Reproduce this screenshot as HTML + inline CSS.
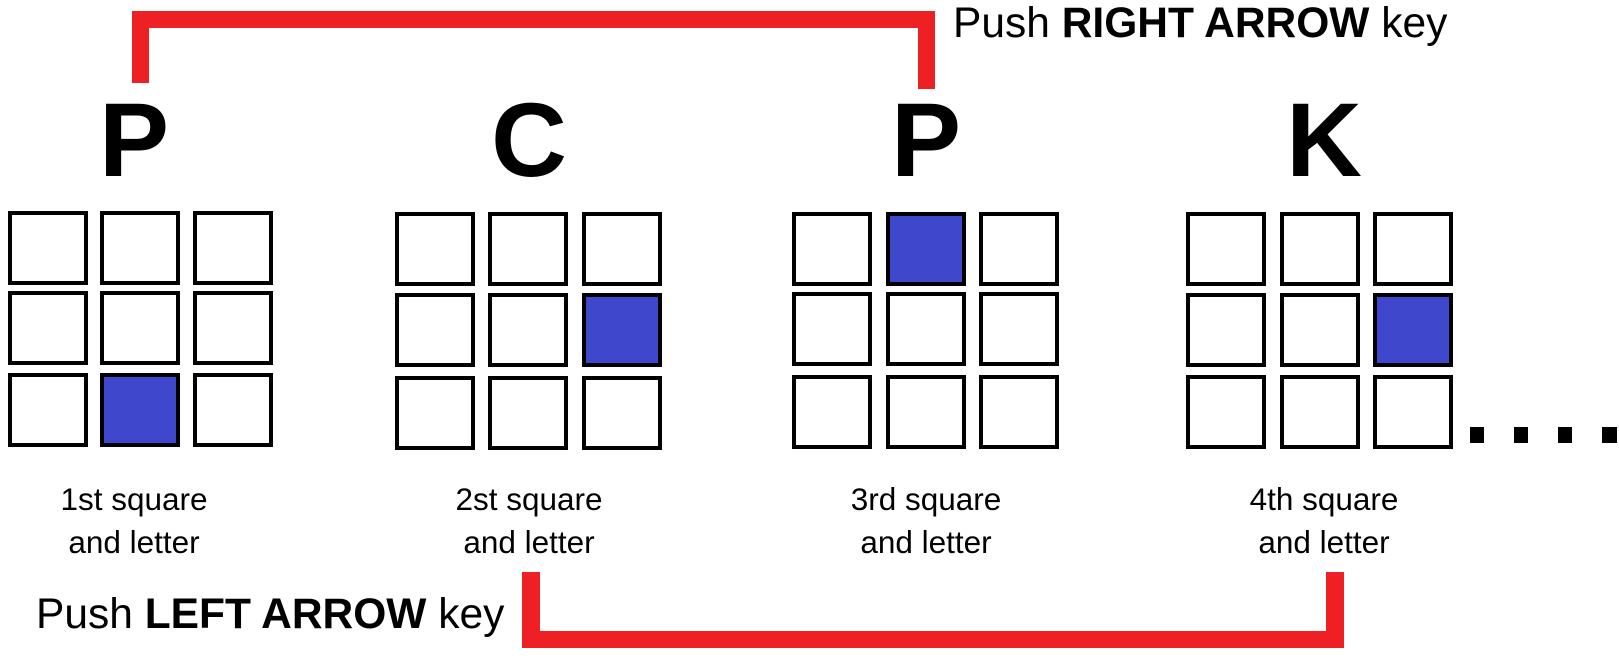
<!DOCTYPE html>
<html><head><meta charset="utf-8"><style>
html,body{margin:0;padding:0;background:#fff;}
svg{display:block;font-family:"Liberation Sans",Arial,sans-serif;}
</style></head><body>
<svg width="1619" height="661" viewBox="0 0 1619 661">
<g fill="#ee2024">
  <rect x="132" y="11" width="803" height="17"/>
  <rect x="132" y="11" width="17" height="72"/>
  <rect x="918" y="11" width="17" height="78"/>
</g>
<text x="953" y="37" font-size="42.5" fill="#000">Push <tspan font-weight="bold">RIGHT ARROW</tspan> key</text>
<g fill="#ee2024">
  <rect x="522" y="631" width="822" height="17"/>
  <rect x="522" y="572" width="18" height="76"/>
  <rect x="1326" y="572" width="18" height="76"/>
</g>
<text x="36" y="628" font-size="42.5" fill="#000">Push <tspan font-weight="bold">LEFT ARROW</tspan> key</text>
<g id="grids"></g>
<g fill="#000">
  <rect x="1470" y="427" width="14" height="16"/>
  <rect x="1514" y="427" width="14" height="16"/>
  <rect x="1558" y="427" width="14" height="16"/>
  <rect x="1602" y="427" width="15" height="16"/>
</g>
</svg>
<script>
const letters=['P','C','P','K'];
const labels=['1st square','2st square','3rd square','4th square'];
const filled=[[2,1],[1,2],[0,1],[1,2]];
const centers=[134,529,926,1324];
const colX=[[8,100,193],[395,488,582],[792,886,979],[1186,1280,1373]];
const rowY=[[211,291,373],[212,293,376],[212,292,375],[212,293,375]];
const NS='http://www.w3.org/2000/svg';
const g=document.getElementById('grids');
for(let i=0;i<4;i++){
  const grp=document.createElementNS(NS,'g');
  
  
  const cx=centers[i];
  const t=document.createElementNS(NS,'text');
  
  
  t.setAttribute('x',cx);t.setAttribute('y',176);t.setAttribute('text-anchor','middle');
  t.setAttribute('font-size','105');t.setAttribute('font-weight','bold');
  t.textContent=letters[i];grp.appendChild(t);
  for(let r=0;r<3;r++)for(let c=0;c<3;c++){
    const s=document.createElementNS(NS,'rect');
    
    
    s.setAttribute('x',colX[i][c]+2);s.setAttribute('y',rowY[i][r]+2);
    s.setAttribute('width',76);s.setAttribute('height',70);
    const on=filled[i][0]===r&&filled[i][1]===c;
    s.setAttribute('fill',on?'#3f48cc':'#fff');
    s.setAttribute('stroke','#000');s.setAttribute('stroke-width','4');
    grp.appendChild(s);
  }
  const l1=document.createElementNS(NS,'text');
  
  
  l1.setAttribute('x',cx);l1.setAttribute('y',510);l1.setAttribute('text-anchor','middle');l1.setAttribute('font-size','31.5');
  l1.textContent=labels[i];grp.appendChild(l1);
  const l2=document.createElementNS(NS,'text');
  
  
  l2.setAttribute('x',cx);l2.setAttribute('y',553);l2.setAttribute('text-anchor','middle');l2.setAttribute('font-size','31.5');
  l2.textContent='and letter';grp.appendChild(l2);
  g.appendChild(grp);
}
</script>
</body></html>
